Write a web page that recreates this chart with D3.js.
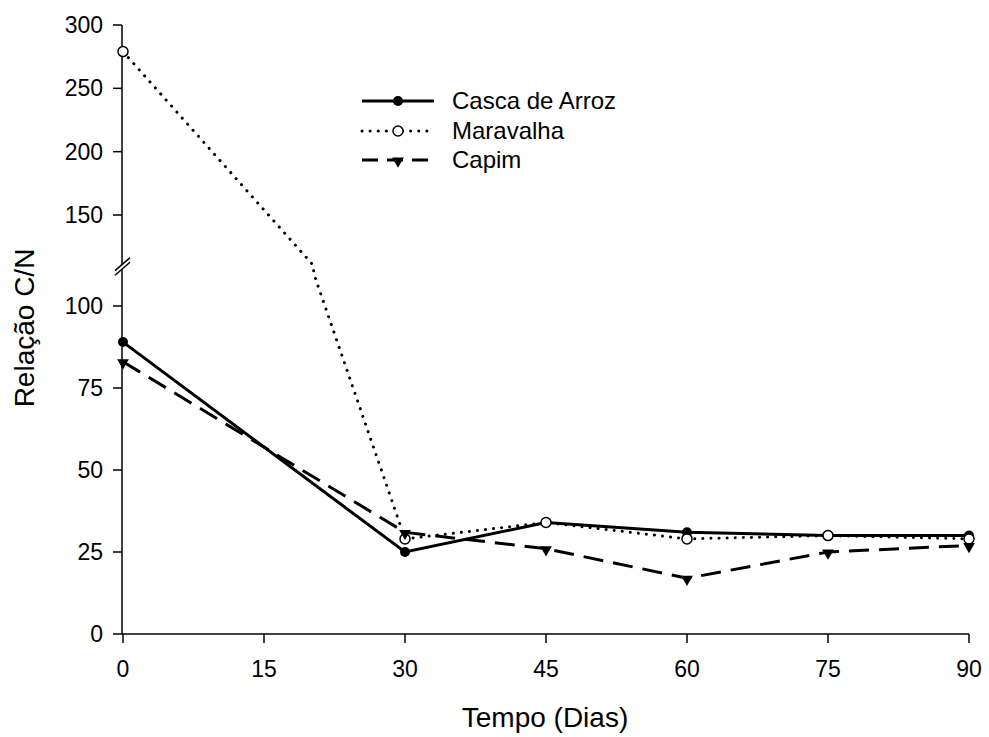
<!DOCTYPE html>
<html>
<head>
<meta charset="utf-8">
<script src="https://cdn.jsdelivr.net/npm/d3@7"></script>
<style>
  body { margin: 0; background: #fff; }
  text { font-family: "Liberation Sans", Arial, sans-serif; fill: #000; }
</style>
</head>
<body>
<div id="chart"></div>
<script>
"use strict";

const WIDTH = 989, HEIGHT = 737;

// data
var days = [0, 30, 45, 60, 75, 90];
var casca = [89, 25, 34, 31, 30, 30];
var maravalha = [279, 29, 34, 29, 30, 29];
var capim = [83, 31, 26, 17, 25, 27];
var xTicks = [0, 15, 30, 45, 60, 75, 90];
var yTicksLow = [0, 25, 50, 75, 100];
var yTicksHigh = [150, 200, 250, 300];
var legendNames = ["Casca de Arroz", "Maravalha", "Capim"];

// broken y axis
const BREAK = 110;

var svg = d3.select("#chart").append("svg")
  .attr("width", WIDTH)
  .attr("height", HEIGHT);

var x = d3.scaleLinear().domain([0, 90]).range([123, 969]);
var yLow = d3.scaleLinear().domain([0, 100]).range([634, 306]);
var yHigh = d3.scaleLinear().domain([150, 300]).range([215, 25]);

function yPos(v) { return v <= BREAK ? yLow(v) : yHigh(v); }

// split segments that cross the break so the line jumps the gap
function toPoints(vals) {
  var pts = [];
  for (var i = 0; i < vals.length; i++) {
    if (i > 0) {
      var a = vals[i-1], b = vals[i];
      if ((a - BREAK) * (b - BREAK) < 0) {
        var t = days[i-1] + (BREAK - a) / (b - a) * (days[i] - days[i-1]);
        var first = a > b ? yHigh(BREAK) : yLow(BREAK);
        var second = a > b ? yLow(BREAK) : yHigh(BREAK);
        pts.push([x(t), first]);
        pts.push([x(t), second]);
      }
    }
    pts.push([x(days[i]), yPos(vals[i])]);
  }
  return pts;
}

var line = d3.line();

// axes
var axes = svg.append("g").attr("stroke", "#000").attr("stroke-width", 1.5);
var gapTop = yHigh(BREAK) - 1, gapBot = yLow(BREAK) - 4;
axes.append("line").attr("x1", 122).attr("x2", 122).attr("y1", yHigh(300)).attr("y2", gapTop);
axes.append("line").attr("x1", 122).attr("x2", 122).attr("y1", gapBot).attr("y2", yLow(0));
axes.append("line").attr("x1", 122).attr("x2", x(90)).attr("y1", yLow(0)).attr("y2", yLow(0));
[gapTop, gapBot].forEach(function(yy) {
  axes.append("line")
    .attr("x1", 115).attr("y1", yy + 6)
    .attr("x2", 130).attr("y2", yy - 7);
});

// y ticks
yTicksLow.forEach(function(v) {
  axes.append("line").attr("x1", 113).attr("x2", 122).attr("y1", yLow(v)).attr("y2", yLow(v));
  svg.append("text").attr("x", 103).attr("y", yLow(v)).attr("dy", "0.35em")
    .attr("text-anchor", "end").attr("font-size", 23).text(v);
});
yTicksHigh.forEach(function(v) {
  axes.append("line").attr("x1", 113).attr("x2", 122).attr("y1", yHigh(v)).attr("y2", yHigh(v));
  svg.append("text").attr("x", 103).attr("y", yHigh(v)).attr("dy", "0.35em")
    .attr("text-anchor", "end").attr("font-size", 23).text(v);
});

// x ticks
xTicks.forEach(function(d) {
  axes.append("line").attr("x1", x(d)).attr("x2", x(d)).attr("y1", yLow(0)).attr("y2", yLow(0) + 9);
  svg.append("text").attr("x", x(d)).attr("y", 677)
    .attr("text-anchor", "middle").attr("font-size", 23).text(d);
});

svg.append("text").attr("x", 545).attr("y", 727)
  .attr("text-anchor", "middle").attr("font-size", 28).text("Tempo (Dias)");
svg.append("text")
  .attr("transform", "translate(34,328) rotate(-90)")
  .attr("text-anchor", "middle").attr("font-size", 28).text("Relação C/N");

// series
var styles = [
  { vals: casca, dash: null, cap: "butt", width: 3, marker: "filled" },
  { vals: maravalha, dash: "0.1 8", cap: "round", width: 3, marker: "open" },
  { vals: capim, dash: "20 10", cap: "butt", width: 3, marker: "tri" }
];

function drawMarker(g, kind, cx, cy) {
  if (kind === "filled") {
    g.append("circle").attr("cx", cx).attr("cy", cy).attr("r", 5).attr("fill", "#000");
  } else if (kind === "open") {
    g.append("circle").attr("cx", cx).attr("cy", cy).attr("r", 5)
      .attr("fill", "#fff").attr("stroke", "#000").attr("stroke-width", 1.5);
  } else {
    g.append("path")
      .attr("d", d3.symbol().type(d3.symbolTriangle).size(60)())
      .attr("transform", "translate(" + cx + "," + (cy + 1) + ") rotate(180)")
      .attr("fill", "#000");
  }
}

styles.forEach(function(s) {
  svg.append("path")
    .datum(toPoints(s.vals))
    .attr("d", line)
    .attr("fill", "none")
    .attr("stroke", "#000")
    .attr("stroke-width", s.width)
    .attr("stroke-linecap", s.cap)
    .attr("stroke-dasharray", s.dash);
});
styles.forEach(function(s) {
  var g = svg.append("g");
  s.vals.forEach(function(v, i) { drawMarker(g, s.marker, x(days[i]), yPos(v)); });
});

// legend
var legendY = [101, 131, 160];
styles.forEach(function(s, i) {
  var g = svg.append("g");
  var yy = legendY[i];
  g.append("line").attr("x1", 362).attr("x2", 434).attr("y1", yy).attr("y2", yy)
    .attr("stroke", "#000").attr("stroke-width", s.width)
    .attr("stroke-linecap", s.cap)
    .attr("stroke-dasharray", s.marker === "tri" ? "16 9" : s.dash);
  drawMarker(g, s.marker, 398, yy);
  svg.append("text").attr("x", 452).attr("y", yy).attr("dy", "0.35em")
    .attr("font-size", 24).text(legendNames[i]);
});
</script>
</body>
</html>
